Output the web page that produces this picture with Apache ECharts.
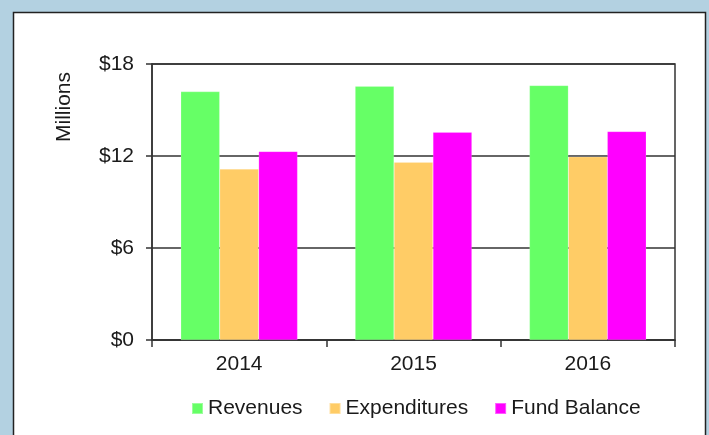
<!DOCTYPE html>
<html>
<head>
<meta charset="utf-8">
<script src="https://cdn.jsdelivr.net/npm/echarts@6/dist/echarts.min.js"></script>
<style>
  html, body { margin: 0; padding: 0; background: #b3d1e1; }
  #chart { width: 709px; height: 435px; }
</style>
</head>
<body>
<div id="chart"></div>
<script>
// values in millions of dollars
const years = ["2014", "2015", "2016"];
const revenues = [16.2, 16.55, 16.6];
const expenditures = [11.15, 11.6, 11.95];
const fundBalance = [12.3, 13.55, 13.6];
const yTicks = { min: 0, max: 18, interval: 6 };

const font = "Liberation Sans, Arial, sans-serif";
const chart = echarts.init(document.getElementById("chart"));

const bar = (name, data, color) => ({
  name: name,
  type: "bar",
  data: data,
  barGap: "0%",
  barCategoryGap: "33%",
  itemStyle: { color: color, borderColor: "rgba(255,255,255,0.35)", borderWidth: 0.5 },
});

chart.setOption({
  backgroundColor: "#b3d1e1",
  animation: false,
  textStyle: { fontFamily: font },
  graphic: [
    {
      type: "rect",
      z: -10,
      shape: { x: 13.5, y: 12.5, width: 692, height: 430 },
      style: { fill: "#ffffff", stroke: "#222", lineWidth: 1.5 },
    },
    {
      type: "text",
      x: 64,
      y: 107,
      rotation: Math.PI / 2,
      style: {
        text: "Millions",
        font: "21px " + font,
        fill: "#1a1a1a",
        align: "center",
        verticalAlign: "middle",
      },
    },
  ],
  grid: {
    left: 152,
    top: 64,
    right: 34,
    bottom: 95,
    show: true,
    borderColor: "#333",
    borderWidth: 1.5,
  },
  legend: {
    top: 393,
    left: 186,
    itemWidth: 11,
    itemHeight: 11,
    itemGap: 26,
    icon: "rect",
    textStyle: { fontSize: 21, color: "#1a1a1a", fontFamily: font },
    data: ["Revenues", "Expenditures", "Fund Balance"],
  },
  xAxis: {
    type: "category",
    data: years,
    axisLine: { lineStyle: { color: "#333", width: 1.5 } },
    axisTick: { show: true, length: 7, lineStyle: { color: "#333", width: 1.5 } },
    axisLabel: { fontSize: 21, color: "#1a1a1a", margin: 14, fontFamily: font },
  },
  yAxis: {
    type: "value",
    min: yTicks.min,
    max: yTicks.max,
    interval: yTicks.interval,
    axisLine: { show: true, lineStyle: { color: "#333", width: 1.5 } },
    axisTick: { show: true, length: 6, lineStyle: { color: "#333", width: 1.5 } },
    axisLabel: {
      fontSize: 21,
      color: "#1a1a1a",
      margin: 18,
      fontFamily: font,
      formatter: (v) => "$" + v,
    },
    splitLine: { lineStyle: { color: "#333", width: 1.5 } },
  },
  series: [
    bar("Revenues", revenues, "#66ff66"),
    bar("Expenditures", expenditures, "#ffcc66"),
    bar("Fund Balance", fundBalance, "#ff00ff"),
  ],
});
</script>
</body>
</html>
